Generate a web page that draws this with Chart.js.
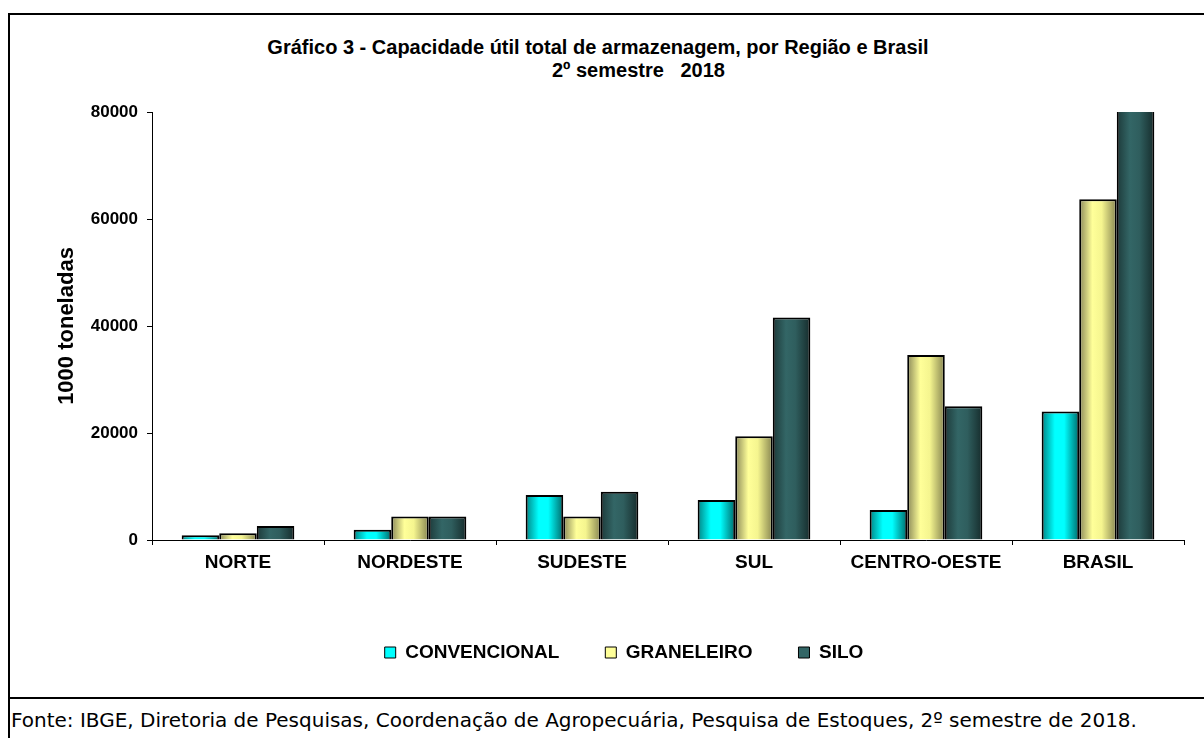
<!DOCTYPE html>
<html>
<head>
<meta charset="utf-8">
<script src="https://cdn.jsdelivr.net/npm/chart.js@4.4.1/dist/chart.umd.min.js"></script>
<style>
  html, body { margin: 0; padding: 0; background: #fff; width: 1204px; height: 738px; overflow: hidden; position: relative; }
  #frame { position: absolute; left: 8px; top: 13px; right: -5px; bottom: -5px; border-left: 2px solid #000; border-top: 2px solid #000; }
  #sep { position: absolute; left: 8px; right: 0; top: 697px; height: 2px; background: #000; }
  .title { position: absolute; font-family: 'Liberation Sans', Arial, sans-serif; font-weight: bold; font-size: 20px; color: #000; white-space: pre; line-height: 22px; }
  #t1 { left: 0; width: 1196px; top: 36px; text-align: center; }
  #t2 { left: 552px; top: 59px; }
  #footer { position: absolute; left: 11px; top: 708px; font-family: 'DejaVu Sans', Verdana, sans-serif; font-size: 20px; color: #000; white-space: pre; line-height: 24px; }
  #wrap { position: absolute; left: 0; top: 0; width: 1204px; height: 738px; }
</style>
</head>
<body>
<div id="frame"></div>
<div id="sep"></div>
<div class="title" id="t1">Gráfico 3 - Capacidade útil total de armazenagem, por Região e Brasil</div>
<div class="title" id="t2">2º semestre   2018</div>
<div id="footer">Fonte: IBGE, Diretoria de Pesquisas, Coordenação de Agropecuária, Pesquisa de Estoques, 2º semestre de 2018.</div>
<div id="wrap"><canvas id="c" width="1204" height="738"></canvas></div>
<script>
const categories = ['NORTE', 'NORDESTE', 'SUDESTE', 'SUL', 'CENTRO-OESTE', 'BRASIL'];
const convencional = [900, 1900, 8400, 7500, 5600, 24000];
const graneleiro = [1250, 4400, 4400, 19400, 34600, 63700];
const silo = [2600, 4400, 9000, 41600, 25000, 82500];
const seriesNames = ['CONVENCIONAL', 'GRANELEIRO', 'SILO'];
const yTicks = [0, 20000, 40000, 60000, 80000];

const gradStops = [
  ['#008484', '#00ffff', '#00ffff', '#006a6a'],
  ['#8a8858', '#ffff99', '#f5f58f', '#868450'],
  ['#1d3a3a', '#336666', '#2f5e5e', '#162c2c']
];
const solid = ['#00ffff', '#ffff99', '#336666'];

const gradientPlugin = {
  id: 'barGradient',
  beforeDatasetsDraw(chart) {
    const ctx = chart.ctx;
    chart.data.datasets.forEach((ds, di) => {
      const meta = chart.getDatasetMeta(di);
      const st = gradStops[di];
      meta.data.forEach(el => {
        const p = el.getProps(['x', 'width'], true);
        const g = ctx.createLinearGradient(p.x - p.width / 2, 0, p.x + p.width / 2, 0);
        g.addColorStop(0, st[0]);
        g.addColorStop(0.35, st[1]);
        g.addColorStop(0.6, st[2]);
        g.addColorStop(1, st[3]);
        el.options = Object.assign({}, el.options, { backgroundColor: g });
      });
    });
  }
};

const FONT = "'Liberation Sans', Arial, sans-serif";

new Chart(document.getElementById('c'), {
  type: 'bar',
  data: {
    labels: categories,
    datasets: [
      { label: seriesNames[0], data: convencional, backgroundColor: solid[0] },
      { label: seriesNames[1], data: graneleiro, backgroundColor: solid[1] },
      { label: seriesNames[2], data: silo, backgroundColor: solid[2] }
    ]
  },
  plugins: [gradientPlugin],
  options: {
    responsive: false,
    animation: false,
    devicePixelRatio: 1,
    layout: { padding: { left: 64, right: 20, top: 112, bottom: 66 } },
    datasets: {
      bar: {
        borderColor: '#000',
        borderWidth: 2,
        categoryPercentage: 0.655,
        barPercentage: 1
      }
    },
    scales: {
      x: {
        offset: true,
        afterFit: s => { s.height = 57; },
        grid: { display: true, drawOnChartArea: false, drawTicks: true, tickLength: 5, color: '#000', offset: true },
        border: { display: true, color: '#000', width: 1 },
        ticks: { color: '#000', font: { family: FONT, size: 19, weight: 'bold' }, padding: 6, maxRotation: 0, autoSkip: false }
      },
      y: {
        min: 0,
        max: 80000,
        afterFit: s => { s.width = 88; },
        afterBuildTicks: s => { s.ticks = yTicks.map(v => ({ value: v })); },
        grid: { display: true, drawOnChartArea: false, drawTicks: true, tickLength: 5, color: '#000' },
        border: { display: true, color: '#000', width: 1 },
        ticks: { color: '#000', font: { family: FONT, size: 17, weight: 'bold' }, padding: 9, callback: v => String(v) },
        title: { display: true, text: '1000 toneladas', color: '#000', font: { family: FONT, size: 22, weight: 'bold' }, padding: { top: -10, bottom: 0 } }
      }
    },
    plugins: {
      legend: {
        position: 'bottom',
        labels: {
          color: '#000',
          font: { family: FONT, size: 19, weight: 'bold' },
          boxWidth: 11,
          boxHeight: 11,
          padding: 46,
          generateLabels: chart => Chart.defaults.plugins.legend.labels.generateLabels(chart).map(l => Object.assign(l, { lineWidth: 1, strokeStyle: '#000' }))
        }
      },
      title: { display: false },
      tooltip: { enabled: false }
    }
  }
});
</script>
</body>
</html>
